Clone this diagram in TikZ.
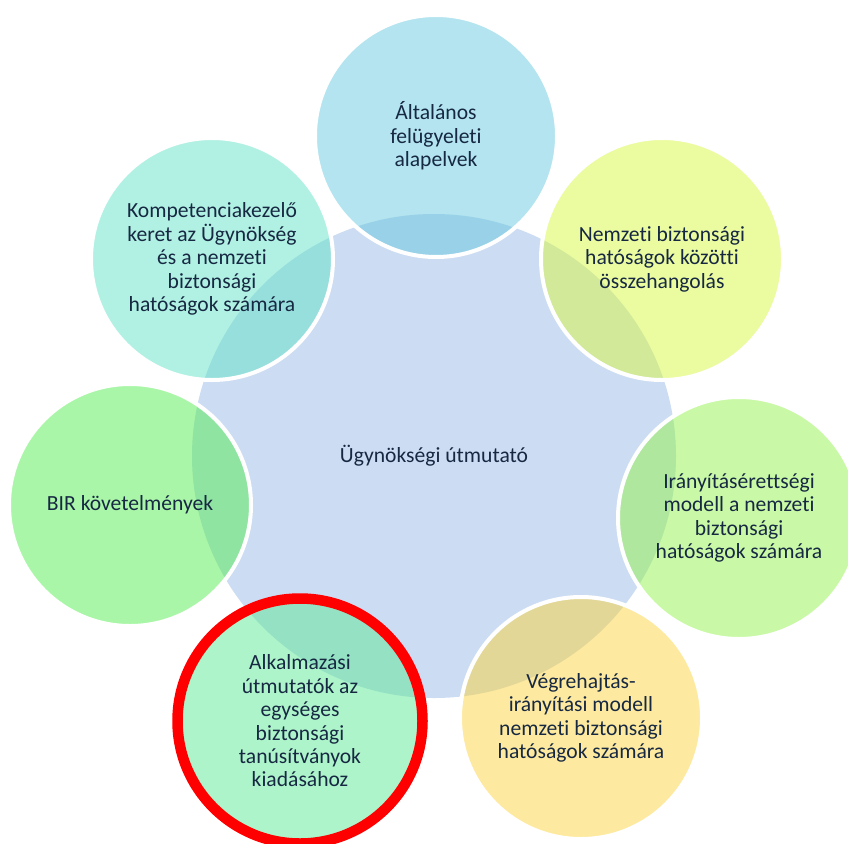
\documentclass[tikz,border=0pt]{standalone}
\usepackage{fontspec}
\setmainfont{Carlito}[Ligatures=NoCommon]
\definecolor{txt}{RGB}{22,40,66}
\definecolor{cc}{RGB}{204,220,242}
\definecolor{cT}{RGB}{103,201,223}
\definecolor{cTR}{RGB}{215,247,65}
\definecolor{cR}{RGB}{147,243,77}
\definecolor{cBR}{RGB}{251,211,63}
\definecolor{cBL}{RGB}{93,233,149}
\definecolor{cL}{RGB}{85,237,81}
\definecolor{cTL}{RGB}{99,227,199}
\tikzset{
  lbl/.style={text=txt, font=\fontsize{21.6}{23.4}\selectfont, align=center, inner sep=0pt},
  hub/.style={lbl, circle, fill=cc, minimum size=484pt},
  petal/.style={lbl, circle, draw=white, line width=4pt, fill opacity=0.5, draw opacity=1, text opacity=1, minimum size=242pt},
  marked/.style={petal, draw=red, line width=10.5pt, minimum size=245pt}
}
\begin{document}
\begin{tikzpicture}[x=1pt,y=-1pt]
\useasboundingbox (0,0) rectangle (848,843);
\node[hub] (hub) at (434,456) {Ügynökségi útmutató};
\node[petal, fill=cT] (t) at (436,136) {Általános\\felügyeleti\\alapelvek};
\node[petal, fill=cTR] (tr) at (662,259) {Nemzeti biztonsági\\hatóságok közötti\\összehangolás};
\node[petal, fill=cR] (r) at (739,518) {Irányításérettségi\\modell a nemzeti\\biztonsági\\hatóságok számára};
\node[petal, fill=cBR] (br) at (581,718) {Végrehajtás-\\irányítási modell\\nemzeti biztonsági\\hatóságok számára};
\node[marked, fill=cBL] (bl) at (300,721) {Alkalmazási\\útmutatók az\\egységes\\biztonsági\\tanúsítványok\\kiadásához};
\node[petal, fill=cL] (l) at (130,505) {BIR követelmények};
\node[petal, fill=cTL] (tl) at (212,259) {Kompetenciakezelő\\keret az Ügynökség\\és a nemzeti\\biztonsági\\hatóságok számára};
\end{tikzpicture}
\end{document}
